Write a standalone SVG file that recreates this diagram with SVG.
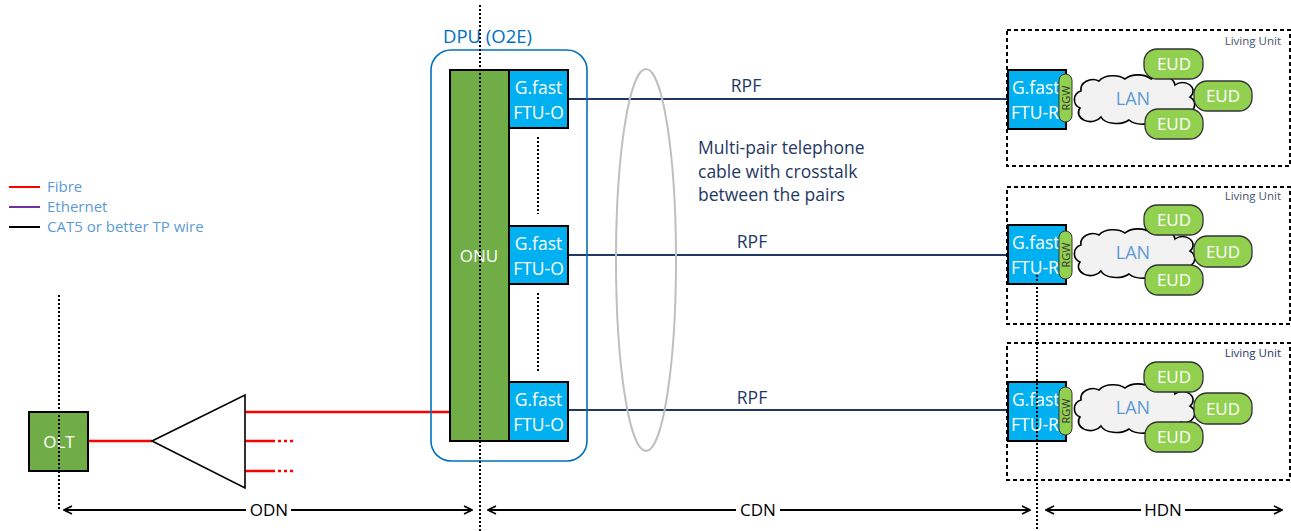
<svg xmlns="http://www.w3.org/2000/svg" width="1291" height="531" viewBox="0 0 1291 531">
<style>
.t{font-family:"Open Sans","Liberation Sans",sans-serif}
.w{fill:#fff;font-size:17.5px;font-family:"Open Sans","Liberation Sans",sans-serif}
.e{fill:#fff;font-size:17px;font-family:"Open Sans","Liberation Sans",sans-serif}
.grn{fill:#70AD47;stroke:#000;stroke-width:2}
.ftu{fill:#00B0F0;stroke:#000;stroke-width:2}
.eud{fill:#92D050;stroke:#333;stroke-width:1.3}
.dot{stroke:#000;stroke-width:2;stroke-dasharray:2 2;fill:none}
.lu{stroke:#000;stroke-width:2;stroke-dasharray:4 3;fill:none}
.rpf{stroke:#1F3864;stroke-width:2;fill:none}
.fib{stroke:#FF0000;stroke-width:2.5;fill:none}
.nav{fill:#1F3864;font-size:17.5px}
.lg{fill:#5B9BD5;font-size:15px}
</style>
<defs>
<marker id="ah" viewBox="0 0 10 10" refX="9" refY="5" markerWidth="10" markerHeight="10" markerUnits="userSpaceOnUse" orient="auto-start-reverse">
<path d="M1,1 L9,5 L1,9" fill="none" stroke="#000" stroke-width="1.6"/>
</marker>
<path id="cloud" d="M -52,-8 A 12,10 0 0 1 -34,-18 A 16,10 0 0 1 -8,-20 A 16,10 0 0 1 18,-20 A 14,10 0 0 1 42,-14 A 10,8 0 0 1 57,-2 A 10,9 0 0 1 48,14 A 14,9 0 0 1 24,20 A 16,9 0 0 1 -4,21 A 16,9 0 0 1 -32,18 A 12,9 0 0 1 -53,9 A 9,9 0 0 1 -52,-8 Z" fill="#F2F2F2" stroke="#000" stroke-width="1.6"/>
</defs>

<g id="legend" class="t">
<line x1="9" y1="187" x2="40" y2="187" stroke="#FF0000" stroke-width="2"/>
<line x1="9" y1="207" x2="40" y2="207" stroke="#7030A0" stroke-width="2"/>
<line x1="9" y1="227" x2="40" y2="227" stroke="#000" stroke-width="2"/>
<text x="47" y="192" class="lg">Fibre</text>
<text x="47" y="212" class="lg">Ethernet</text>
<text x="47" y="232" class="lg">CAT5 or better TP wire</text>
</g>

<g id="connectors">
<line class="fib" x1="88" y1="441" x2="152" y2="441"/>
<line class="fib" x1="245" y1="412" x2="450" y2="412"/>
<line class="fib" x1="245" y1="441" x2="275" y2="441"/>
<line x1="278" y1="441" x2="295" y2="441" stroke="#FF0000" stroke-width="2.5" stroke-dasharray="3 3"/>
<line class="fib" x1="245" y1="471" x2="275" y2="471"/>
<line x1="278" y1="471" x2="295" y2="471" stroke="#FF0000" stroke-width="2.5" stroke-dasharray="3 3"/>
<line class="rpf" x1="568" y1="99" x2="1008" y2="99"/>
<line class="rpf" x1="568" y1="255" x2="1008" y2="255"/>
<line class="rpf" x1="568" y1="410" x2="1008" y2="410"/>
<line class="dot" x1="538" y1="137" x2="538" y2="214"/>
<line class="dot" x1="538" y1="293" x2="538" y2="371"/>
<line x1="64" y1="510" x2="246" y2="510" stroke="#000" stroke-width="2" marker-start="url(#ah)"/>
<line x1="291" y1="510" x2="472" y2="510" stroke="#000" stroke-width="2" marker-end="url(#ah)"/>
<line x1="488" y1="510" x2="736" y2="510" stroke="#000" stroke-width="2" marker-start="url(#ah)"/>
<line x1="780" y1="510" x2="1030" y2="510" stroke="#000" stroke-width="2" marker-end="url(#ah)"/>
<line x1="1046" y1="510" x2="1141" y2="510" stroke="#000" stroke-width="2" marker-start="url(#ah)"/>
<line x1="1185" y1="510" x2="1282" y2="510" stroke="#000" stroke-width="2" marker-end="url(#ah)"/>
</g>

<g id="labels" class="t">
<text x="746" y="92" class="nav" text-anchor="middle">RPF</text>
<text x="752" y="248" class="nav" text-anchor="middle">RPF</text>
<text x="752" y="404" class="nav" text-anchor="middle">RPF</text>
<text x="698" y="154" class="nav">Multi-pair telephone</text>
<text x="698" y="178" class="nav">cable with crosstalk</text>
<text x="698" y="201" class="nav">between the pairs</text>
<text x="269" y="516" text-anchor="middle" font-size="17" fill="#000">ODN</text>
<text x="758" y="516" text-anchor="middle" font-size="17" fill="#000">CDN</text>
<text x="1163" y="516" text-anchor="middle" font-size="17" fill="#000">HDN</text>
</g>

<g id="cable">
<ellipse cx="646" cy="260" rx="30" ry="191" fill="none" stroke="#BFBFBF" stroke-width="2"/>
</g>

<g id="dpu">
<rect x="431" y="50" width="156" height="411" rx="20" fill="none" stroke="#0070C0" stroke-width="1.6"/>
<text x="443" y="43" class="t" font-size="18.5" fill="#0070C0">DPU (O2E)</text>
</g>

<g id="onu">
<rect class="grn" x="450" y="70" width="59" height="371"/>
<text x="479" y="262" class="e" text-anchor="middle">ONU</text>
</g>

<g id="ftuo1"><rect class="ftu" x="509" y="70" width="59" height="58"/><text x="538.5" y="94" class="w" text-anchor="middle">G.fast</text><text x="538.5" y="119" class="w" text-anchor="middle">FTU-O</text></g>
<g id="ftuo2"><rect class="ftu" x="509" y="226" width="59" height="58"/><text x="538.5" y="250" class="w" text-anchor="middle">G.fast</text><text x="538.5" y="275" class="w" text-anchor="middle">FTU-O</text></g>
<g id="ftuo3"><rect class="ftu" x="509" y="382" width="59" height="59"/><text x="538.5" y="406" class="w" text-anchor="middle">G.fast</text><text x="538.5" y="431" class="w" text-anchor="middle">FTU-O</text></g>

<g id="olt">
<rect class="grn" x="29" y="412" width="59" height="59"/>
<text x="59" y="448" class="e" text-anchor="middle">OLT</text>
</g>

<g id="splitter">
<polygon points="152,441 245,395 245,488" fill="#fff" stroke="#000" stroke-width="1.6"/>
</g>

<g id="lu1">
<rect class="lu" x="1007" y="30" width="283" height="136"/>
<text x="1281" y="45" class="t" font-size="11.5" fill="#44546A" text-anchor="end">Living Unit</text>
<rect class="ftu" x="1008" y="70" width="58" height="59"/>
<text x="1012" y="94" class="w">G.fast</text><text x="1011" y="119" class="w">FTU-R</text>
<rect x="1059" y="74" width="13" height="48" rx="6.5" fill="#92D050" stroke="#333" stroke-width="1"/>
<text transform="translate(1069.5,98) rotate(-90)" class="t" font-size="11" fill="#333" text-anchor="middle">RGW</text>
<use href="#cloud" x="1133" y="99"/>
<text x="1133" y="105" class="t" font-size="18" fill="#5B9BD5" text-anchor="middle">LAN</text>
<rect class="eud" x="1144" y="49" width="59" height="30" rx="13"/><text x="1174" y="70" class="e" text-anchor="middle">EUD</text>
<rect class="eud" x="1194" y="81" width="58" height="30" rx="13"/><text x="1223" y="102" class="e" text-anchor="middle">EUD</text>
<rect class="eud" x="1145" y="109" width="58" height="30" rx="13"/><text x="1174" y="130" class="e" text-anchor="middle">EUD</text>
</g>

<g id="lu2">
<rect class="lu" x="1007" y="187" width="283" height="137"/>
<text x="1281" y="200" class="t" font-size="11.5" fill="#44546A" text-anchor="end">Living Unit</text>
<rect class="ftu" x="1008" y="225" width="58" height="59"/>
<text x="1012" y="249" class="w">G.fast</text><text x="1011" y="274" class="w">FTU-R</text>
<rect x="1059" y="231" width="13" height="48" rx="6.5" fill="#92D050" stroke="#333" stroke-width="1"/>
<text transform="translate(1069.5,255) rotate(-90)" class="t" font-size="11" fill="#333" text-anchor="middle">RGW</text>
<use href="#cloud" x="1133" y="253"/>
<text x="1133" y="259" class="t" font-size="18" fill="#5B9BD5" text-anchor="middle">LAN</text>
<rect class="eud" x="1144" y="205" width="59" height="30" rx="13"/><text x="1174" y="226" class="e" text-anchor="middle">EUD</text>
<rect class="eud" x="1194" y="236" width="58" height="31" rx="13"/><text x="1223" y="258" class="e" text-anchor="middle">EUD</text>
<rect class="eud" x="1145" y="265" width="58" height="30" rx="13"/><text x="1174" y="286" class="e" text-anchor="middle">EUD</text>
</g>

<g id="lu3">
<rect class="lu" x="1007" y="343" width="283" height="137"/>
<text x="1281" y="357" class="t" font-size="11.5" fill="#1F3864" text-anchor="end">Living Unit</text>
<rect class="ftu" x="1008" y="382" width="58" height="59"/>
<text x="1012" y="406" class="w">G.fast</text><text x="1011" y="431" class="w">FTU-R</text>
<rect x="1059" y="387" width="13" height="48" rx="6.5" fill="#92D050" stroke="#333" stroke-width="1"/>
<text transform="translate(1069.5,411) rotate(-90)" class="t" font-size="11" fill="#333" text-anchor="middle">RGW</text>
<use href="#cloud" x="1133" y="408"/>
<text x="1133" y="414" class="t" font-size="18" fill="#5B9BD5" text-anchor="middle">LAN</text>
<rect class="eud" x="1144" y="362" width="59" height="30" rx="13"/><text x="1174" y="383" class="e" text-anchor="middle">EUD</text>
<rect class="eud" x="1194" y="393" width="58" height="31" rx="13"/><text x="1223" y="415" class="e" text-anchor="middle">EUD</text>
<rect class="eud" x="1145" y="422" width="58" height="30" rx="13"/><text x="1174" y="443" class="e" text-anchor="middle">EUD</text>
</g>

<g id="boundaries">
<line class="dot" x1="480" y1="5" x2="480" y2="531"/>
<line class="dot" x1="59" y1="295" x2="59" y2="510"/>
<line class="dot" x1="1037" y1="275" x2="1037" y2="531"/>
</g>
</svg>
